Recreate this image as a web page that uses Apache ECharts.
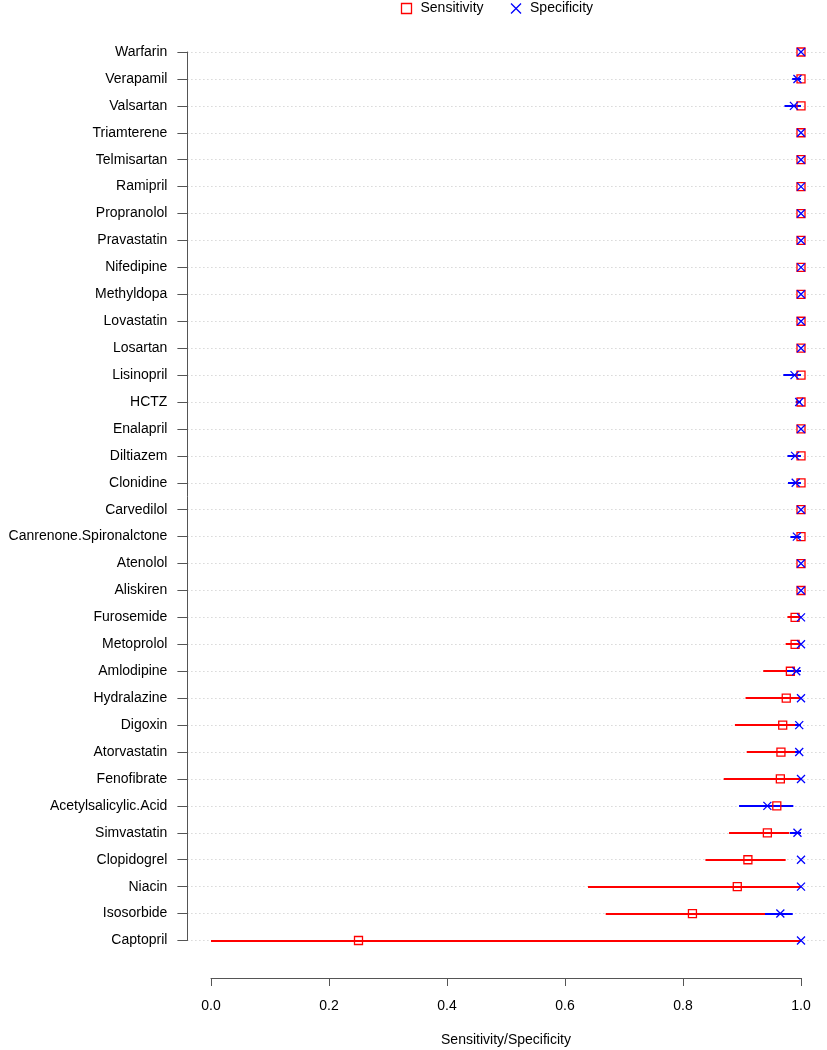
<!DOCTYPE html>
<html>
<head>
<meta charset="utf-8">
<script src="https://cdn.jsdelivr.net/npm/echarts@6/dist/echarts.min.js"></script>
<style>html,body{margin:0;padding:0;background:#fff}#c{width:827px;height:1050px}</style>
</head>
<body>
<div id="c"></div>
<script>
const categories = ["Warfarin","Verapamil","Valsartan","Triamterene","Telmisartan","Ramipril","Propranolol","Pravastatin","Nifedipine","Methyldopa","Lovastatin","Losartan","Lisinopril","HCTZ","Enalapril","Diltiazem","Clonidine","Carvedilol","Canrenone.Spironalctone","Atenolol","Aliskiren","Furosemide","Metoprolol","Amlodipine","Hydralazine","Digoxin","Atorvastatin","Fenofibrate","Acetylsalicylic.Acid","Simvastatin","Clopidogrel","Niacin","Isosorbide","Captopril"];

const sensitivity = [1,1,1,1,1,1,1,1,1,1,1,1,1,1,1,1,1,1,1,1,1,0.990,0.990,0.982,0.975,0.969,0.966,0.965,0.959,0.943,0.910,0.892,0.816,0.250];
const sensLow     = [1,1,1,1,1,1,1,1,1,1,1,1,1,1,1,1,1,1,1,1,1,0.977,0.974,0.936,0.906,0.888,0.908,0.869,0.905,0.878,0.838,0.639,0.669,0.000];
const sensHigh    = [1,1,1,1,1,1,1,1,1,1,1,1,1,1,1,1,1,1,1,1,1,1.000,1.000,0.995,1.000,0.995,0.993,1.000,0.980,0.980,0.974,1.000,0.940,1.000];

const specificity = [1,0.994,0.988,1,1,1,1,1,1,1,1,1,0.989,0.997,1,0.990,0.991,1,0.993,1,1,1,1,0.992,1,0.997,0.997,1,0.943,0.994,1,1,0.965,1];
const specLow     = [1,0.985,0.972,1,1,1,1,1,1,1,1,1,0.970,0.991,1,0.977,0.978,1,0.982,1,1,1,1,0.975,1,0.990,0.990,1,0.895,0.981,1,1,0.939,1];
const specHigh    = [1,1,1,1,1,1,1,1,1,1,1,1,1,1,1,1,1,1,1,1,1,1,1,1,1,1,1,1,0.987,1,1,1,0.986,1];

const xTicks = [0, 0.2, 0.4, 0.6, 0.8, 1.0];

const RED = '#ff0000', BLUE = '#0000ff';
const FONT = 'Liberation Sans, Arial, Helvetica, sans-serif';
const XMARK = 'path://M0,0L10,10M10,0L0,10';

function barData(lo, hi){ return categories.map((c,i)=>[lo[i], hi[i], i]); }
function ptData(v){ return categories.map((c,i)=>[v[i], i]); }
function barSeries(name, lo, hi, color, z){
  return {
    name: name, type: 'custom', xAxisIndex: 0, yAxisIndex: 0, z: z,
    data: barData(lo, hi),
    encode: { x: [0,1], y: 2 },
    renderItem: function(params, api){
      const a = api.coord([api.value(0), api.value(2)]);
      const b = api.coord([api.value(1), api.value(2)]);
      if (Math.abs(b[0]-a[0]) < 0.5) return null;
      const y = Math.round(a[1]);
      return { type: 'line', shape: { x1: a[0], y1: y, x2: b[0], y2: y },
               style: { stroke: color, lineWidth: 2 } };
    },
    silent: true
  };
}

const chart = echarts.init(document.getElementById('c'), null, { renderer: 'canvas' });
chart.setOption({
  animation: false,
  backgroundColor: '#fff',
  textStyle: { fontFamily: FONT },
  legend: {
    left: 394, top: 0, padding: [1, 5, 5, 5], itemWidth: 10, itemHeight: 10, itemGap: 25,
    textStyle: { fontFamily: FONT, fontSize: 14, color: '#000', padding: [0,0,0,4] },
    data: [
      { name: 'Sensitivity', icon: 'rect', itemStyle: { color: 'none', borderColor: RED, borderWidth: 1.3 } },
      { name: 'Specificity', icon: XMARK, itemStyle: { color: 'none', borderColor: BLUE, borderWidth: 1.3 } }
    ]
  },
  grid: [
    { left: 187.4, width: 637.2, top: 52, height: 888.5 },
    { left: 211, width: 590, top: 977, height: 1 }
  ],
  xAxis: [
    { gridIndex: 0, type: 'value', min: -0.04, max: 1.04, show: false },
    { gridIndex: 1, type: 'value', min: 0, max: 1, interval: 0.2,
      axisLine: { show: true, onZero: false, lineStyle: { color: '#555', width: 1 } },
      axisTick: { show: true, length: 8, lineStyle: { color: '#555', width: 1 } },
      axisLabel: { fontFamily: FONT, fontSize: 14, color: '#000', margin: 21,
                   formatter: v => xTicks.indexOf(+v.toFixed(1)) >= 0 ? v.toFixed(1) : '' },
      splitLine: { show: false },
      name: 'Sensitivity/Specificity', nameLocation: 'middle', nameGap: 55,
      nameTextStyle: { fontFamily: FONT, fontSize: 14, color: '#000' } }
  ],
  yAxis: [
    { gridIndex: 0, type: 'category', data: categories, inverse: true, boundaryGap: false,
      axisLine: { show: true, onZero: false, lineStyle: { color: '#555', width: 1 } },
      axisTick: { show: true, length: 10, alignWithLabel: true, lineStyle: { color: '#555', width: 1 } },
      axisLabel: { fontFamily: FONT, fontSize: 14, color: '#000', margin: 20, interval: 0 },
      splitLine: { show: true, interval: 0, lineStyle: { color: '#c4c4c4', type: [1, 3], width: 1 } } },
    { gridIndex: 1, type: 'value', show: false }
  ],
  series: [
    barSeries('sensCI', sensLow, sensHigh, RED, 1),
    barSeries('specCI', specLow, specHigh, BLUE, 2),
    { name: 'Sensitivity', type: 'scatter', xAxisIndex: 0, yAxisIndex: 0, z: 3,
      symbol: 'rect', symbolSize: 8, data: ptData(sensitivity),
      itemStyle: { color: 'rgba(255,255,255,0)', borderColor: RED, borderWidth: 1.3, opacity: 1 },
      emphasis: { disabled: true } },
    { name: 'Specificity', type: 'scatter', xAxisIndex: 0, yAxisIndex: 0, z: 4,
      symbol: XMARK, symbolSize: 8, data: ptData(specificity),
      itemStyle: { color: 'none', borderColor: BLUE, borderWidth: 1.3, opacity: 1 },
      emphasis: { disabled: true } }
  ]
});
</script>
</body>
</html>
